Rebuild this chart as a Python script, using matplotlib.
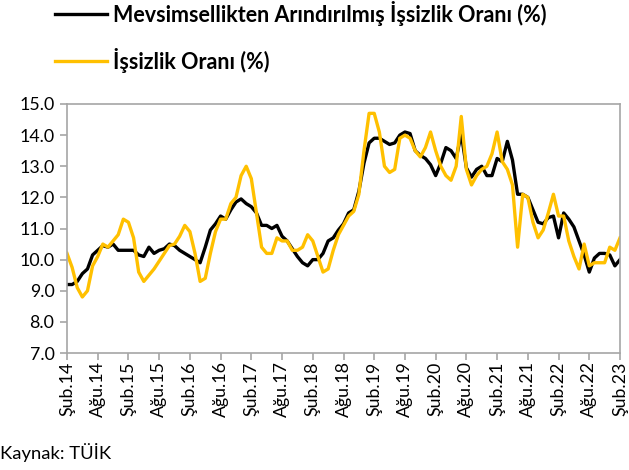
import matplotlib
matplotlib.use("Agg")
import matplotlib.pyplot as plt
import numpy as np
import pandas as pd

plt.rcParams['font.family'] = ['Lato', 'DejaVu Sans']

# monthly data, Feb 2014 .. Feb 2023
start_month = "2014-02"
n_months = 109

# seasonally adjusted unemployment rate (%)
sa_rate = [
    9.2, 9.2, 9.3, 9.55, 9.7, 10.15, 10.3, 10.45, 10.4, 10.5, 10.3,           # 2014
    10.3, 10.3, 10.3, 10.15, 10.1, 10.4, 10.2, 10.3, 10.35, 10.5, 10.45, 10.3,  # 2015
    10.2, 10.1, 10.0, 9.9, 10.4, 10.95, 11.15, 11.4, 11.3, 11.6, 11.85, 11.95,  # 2016
    11.8, 11.7, 11.5, 11.1, 11.1, 11.0, 11.1, 10.75, 10.6, 10.35, 10.1, 9.9,    # 2017
    9.8, 10.0, 10.0, 10.2, 10.6, 10.7, 10.95, 11.15, 11.5, 11.6, 12.2, 13.1,    # 2018
    13.75, 13.9, 13.9, 13.8, 13.7, 13.75, 14.0, 14.1, 14.05, 13.5, 13.35, 13.25,  # 2019
    13.05, 12.7, 13.1, 13.6, 13.5, 13.25, 14.05, 12.95, 12.65, 12.9, 13.0, 12.7,  # 2020
    12.7, 13.25, 13.15, 13.8, 13.2, 12.1, 12.1, 12.0, 11.6, 11.2, 11.15, 11.35,   # 2021
    11.4, 10.7, 11.5, 11.3, 11.05, 10.6, 10.15, 9.6, 10.05, 10.2, 10.2, 10.15,    # 2022
    9.8, 10.0,                                                                    # 2023
]

# unemployment rate (%)
rate = [
    10.2, 9.75, 9.1, 8.8, 9.0, 9.8, 10.1, 10.5, 10.4, 10.6, 10.8,              # 2014
    11.3, 11.2, 10.7, 9.6, 9.3, 9.5, 9.7, 9.95, 10.2, 10.45, 10.5, 10.75,      # 2015
    11.1, 10.9, 10.2, 9.3, 9.4, 10.2, 10.9, 11.3, 11.3, 11.8, 12.0, 12.7,      # 2016
    13.0, 12.6, 11.5, 10.4, 10.2, 10.2, 10.7, 10.6, 10.6, 10.3, 10.3, 10.4,    # 2017
    10.8, 10.6, 10.1, 9.6, 9.7, 10.3, 10.8, 11.1, 11.4, 11.55, 12.1, 13.5,     # 2018
    14.7, 14.7, 14.1, 13.0, 12.8, 12.9, 13.9, 14.0, 13.9, 13.5, 13.3, 13.6,    # 2019
    14.1, 13.5, 13.0, 12.7, 12.55, 13.0, 14.6, 12.9, 12.4, 12.7, 12.9, 13.0,   # 2020
    13.4, 14.1, 13.15, 12.9, 12.4, 10.4, 12.1, 12.0, 11.2, 10.7, 10.95, 11.5,  # 2021
    12.1, 11.4, 11.4, 10.6, 10.1, 9.7, 10.5, 9.8, 9.9, 9.9, 9.9, 10.4,         # 2022
    10.3, 10.7,                                                                # 2023
]

month_names = ['Oca', 'Şub', 'Mar', 'Nis', 'May', 'Haz',
               'Tem', 'Ağu', 'Eyl', 'Eki', 'Kas', 'Ara']

label_sa = "Mevsimsellikten Arındırılmış İşsizlik Oranı (%)"
label_raw = "İşsizlik Oranı (%)"
source = "Kaynak: TÜİK"

periods = pd.period_range(start_month, periods=n_months, freq="M")
x = np.arange(n_months)
tick_pos = x[::6]
tick_lab = [f"{month_names[p.month - 1]}.{p.year % 100:02d}" for p in periods[::6]]

fig = plt.figure(figsize=(6.29, 4.70), dpi=100)
ax = fig.add_axes([67 / 629, 1 - 353 / 470, 553 / 629, 249 / 470])

l1, = ax.plot(x, sa_rate, color="black", lw=2.4, solid_joinstyle="round")
l2, = ax.plot(x, rate, color="#FFC000", lw=2.4, solid_joinstyle="round")

ax.set_xlim(0, n_months - 1)
ax.set_ylim(7, 15)
ax.set_yticks(np.arange(7, 15.01, 1.0))
ax.set_yticklabels([f"{v:.1f}" for v in np.arange(7, 15.01, 1.0)])
ax.set_xticks(tick_pos)
ax.set_xticklabels(tick_lab, rotation=90)

for s in ax.spines.values():
    s.set_color("#A6A6A6")
    s.set_linewidth(1.2)
ax.tick_params(axis="y", length=5, width=1.2, color="#A6A6A6", pad=4,
               labelsize=12.8, labelcolor="black")
ax.tick_params(axis="x", length=5, width=1.2, color="#A6A6A6", pad=1,
               labelsize=12.8, labelcolor="black")

fig.legend([l1, l2], [label_sa, label_raw], loc="upper left",
           bbox_to_anchor=(55 / 629, 1 - 1 / 470), frameon=False,
           prop={"weight": "bold", "size": 15.5}, handlelength=2.4,
           handletextpad=0.28, labelspacing=1.0, borderaxespad=0.0,
           borderpad=0.0)

fig.text(0.0, 1 - 452 / 470, source, fontsize=13.3, va="center", ha="left")

fig.savefig("out.png", dpi=100)
